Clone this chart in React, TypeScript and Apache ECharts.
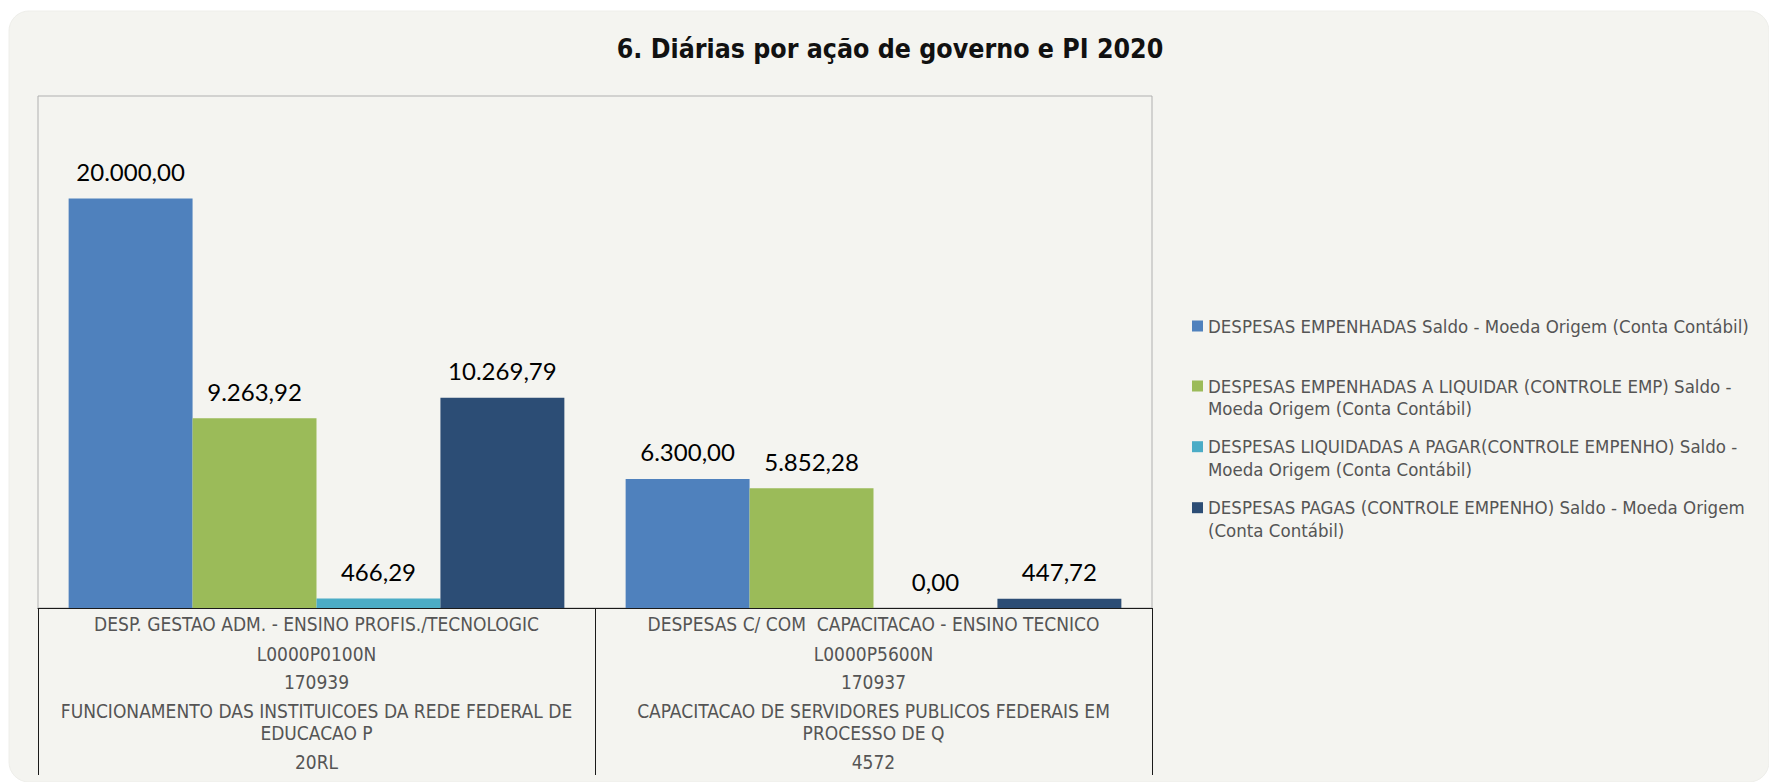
import React, { useEffect, useRef } from "react";
import * as echarts from "echarts";

// ---- Data ----
const acoes = [
  "DESP. GESTAO ADM. - ENSINO PROFIS./TECNOLOGIC",
  "DESPESAS C/ COM  CAPACITACAO - ENSINO TECNICO",
];
const planosInternos = ["L0000P0100N", "L0000P5600N"];
const unidadesGestoras = ["170939", "170937"];
const descricoesAcao = [
  "FUNCIONAMENTO DAS INSTITUICOES DA REDE FEDERAL DE EDUCACAO P",
  "CAPACITACAO DE SERVIDORES PUBLICOS FEDERAIS EM PROCESSO DE Q",
];
const codigosAcao = ["20RL", "4572"];

const seriesNames = [
  "DESPESAS EMPENHADAS Saldo - Moeda Origem (Conta Contábil)",
  "DESPESAS EMPENHADAS A LIQUIDAR (CONTROLE EMP) Saldo - Moeda Origem (Conta Contábil)",
  "DESPESAS LIQUIDADAS A PAGAR(CONTROLE EMPENHO) Saldo - Moeda Origem (Conta Contábil)",
  "DESPESAS PAGAS (CONTROLE EMPENHO) Saldo - Moeda Origem (Conta Contábil)",
];
const empenhadas = [20000.0, 6300.0];
const empenhadasALiquidar = [9263.92, 5852.28];
const liquidadasAPagar = [466.29, 0.0];
const pagas = [10269.79, 447.72];

const titleText = "6. Diárias por ação de governo e PI 2020";

// ---- Styles ----
const colors = ["#4f81bd", "#9bbb59", "#4bacc6", "#2c4d75"];
const uiFont = "'DejaVu Sans Condensed', 'DejaVu Sans', sans-serif";
const valueFont = "Lato, 'Open Sans', sans-serif";

function formatBR(v: number): string {
  const [i, d] = v.toFixed(2).split(".");
  return i.replace(/\B(?=(\d{3})+(?!\d))/g, ".") + "," + d;
}

let measureCtx: CanvasRenderingContext2D | null = null;
function wrapText(text: string, font: string, maxWidth: number): string[] {
  if (!measureCtx) measureCtx = document.createElement("canvas").getContext("2d");
  const ctx = measureCtx!;
  ctx.font = font;
  const words = text.split(" ");
  const lines: string[] = [];
  let cur = "";
  for (const w of words) {
    const test = cur ? cur + " " + w : w;
    if (cur && ctx.measureText(test).width > maxWidth) {
      lines.push(cur);
      cur = w;
    } else {
      cur = test;
    }
  }
  if (cur) lines.push(cur);
  return lines;
}

export default function App() {
  const ref = useRef<HTMLDivElement>(null);

  useEffect(() => {
    if (!ref.current) return;
    const chart = echarts.init(ref.current, null, { renderer: "svg" });

    const catFontSize = 19;
    const catFontCss = `${catFontSize}px 'DejaVu Sans Condensed', 'DejaVu Sans', sans-serif`;
    const labelColor = "#555555";
    const richBase = { fontSize: catFontSize, fontFamily: uiFont, color: labelColor, align: "center" as const };
    const rich: any = {
      l1: { ...richBase, lineHeight: 30 },
      l2: { ...richBase, lineHeight: 29 },
      l3: { ...richBase, lineHeight: 28 },
      l4: { ...richBase, lineHeight: 30 },
      l5: { ...richBase, lineHeight: 13.2 },
      l6: { ...richBase, lineHeight: 44.8 },
    };

    const legendFontSize = 18.5;
    const legendLineH = 22.5;
    const legendFontCss = `${legendFontSize}px 'DejaVu Sans Condensed', 'DejaVu Sans', sans-serif`;
    const legendFirstLineCenters = [326, 386, 446.7, 507.7];
    const legends = seriesNames.map((name, i) => {
      const lines = wrapText(name, legendFontCss, 560);
      const n = lines.length;
      // leading empty lines so that the first text line is centred on the marker
      const padded = new Array(n - 1).fill("").concat(lines).join("\n");
      return {
        data: [name],
        orient: "vertical",
        left: 1192,
        top: legendFirstLineCenters[i] - ((2 * n - 1) * legendLineH) / 2,
        padding: 0,
        icon: "rect",
        itemWidth: 11,
        itemHeight: 11,
        selectedMode: false,
        formatter: () => padded,
        textStyle: {
          fontSize: legendFontSize,
          fontFamily: uiFont,
          color: labelColor,
          lineHeight: legendLineH,
        },
      };
    });

    const seriesData = [empenhadas, empenhadasALiquidar, liquidadasAPagar, pagas];

    chart.setOption({
      animation: false,
      backgroundColor: "#ffffff",
      color: colors,
      title: {
        text: titleText,
        left: 890,
        top: 35,
        padding: 0,
        textAlign: "center",
        textStyle: {
          fontSize: 26.5,
          fontWeight: "bold",
          fontFamily: uiFont,
          color: "#111111",
        },
      },
      graphic: [
        {
          type: "rect",
          z: -10,
          shape: { x: 9, y: 11, width: 1760, height: 771, r: 20 },
          style: { fill: "#f4f4f0", stroke: "#eeeeea", lineWidth: 1 },
          silent: true,
        },
      ],
      legend: legends,
      grid: {
        left: 38,
        top: 96,
        width: 1114,
        height: 512,
        show: true,
        borderColor: "#b0b0b0",
        borderWidth: 1,
        backgroundColor: "transparent",
        containLabel: false,
      },
      xAxis: {
        type: "category",
        data: acoes,
        boundaryGap: true,
        axisLine: { show: true, lineStyle: { color: "#1a1a1a", width: 1 } },
        axisTick: { show: true, length: 167, lineStyle: { color: "#1a1a1a", width: 1 } },
        axisLabel: {
          interval: 0,
          margin: 1,
          formatter: (_v: string, idx: number) => {
            const desc = wrapText(descricoesAcao[idx], catFontCss, 530);
            const lines = [acoes[idx], planosInternos[idx], unidadesGestoras[idx], ...desc, codigosAcao[idx]];
            const styles = desc.length > 1 ? ["l1", "l2", "l3", "l4", "l5", "l6"] : ["l1", "l2", "l3", "l4", "l2"];
            return lines.map((t, k) => `{${styles[k] || "l2"}|${t}}`).join("\n");
          },
          rich,
        },
        splitLine: { show: false },
      },
      yAxis: {
        type: "value",
        min: 0,
        max: 25000,
        show: false,
        splitLine: { show: false },
      },
      series: seriesNames.map((name, i) => ({
        name,
        type: "bar",
        data: seriesData[i],
        barGap: "0%",
        barCategoryGap: "11%",
        itemStyle: { color: colors[i] },
        label: {
          show: true,
          position: "top",
          distance: 15,
          formatter: (p: any) => formatBR(p.value),
          fontSize: 24,
          fontFamily: valueFont,
          color: "#000000",
        },
      })),
    });

    return () => chart.dispose();
  }, []);

  return (
    <div
      ref={ref}
      style={{ position: "absolute", left: 0, top: 0, width: 1769, height: 782 }}
    />
  );
}
